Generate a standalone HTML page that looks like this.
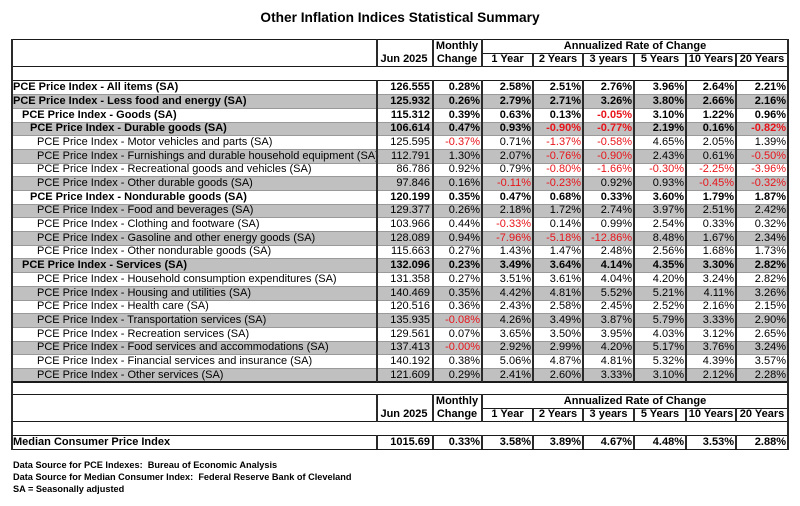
<!DOCTYPE html>
<html><head><meta charset="utf-8"><style>
html,body{margin:0;padding:0;background:#fff;}
body{width:800px;height:506px;position:relative;overflow:hidden;font-family:"Liberation Sans",Arial,sans-serif;color:#000;}
.t{position:absolute;left:0;width:800px;top:9px;text-align:center;font-weight:bold;font-size:13.7px;line-height:18px;}
.row{position:absolute;left:11px;width:777px;}
.g{background:#c0c0c0;}
.c{position:absolute;top:0;height:100%;font-size:11px;white-space:nowrap;box-sizing:border-box;}
.n{text-align:right;padding-right:2px;}
.b{font-weight:bold;}
.red{color:#e8141a;}
.hl{position:absolute;height:1px;background:#1a1a1a;}
.sl{position:absolute;height:1px;background:#9a9a9a;left:12px;width:776px;}
.vl{position:absolute;width:2px;margin-left:-1px;background:#2a2a2a;}
.h{position:absolute;font-size:11px;font-weight:bold;text-align:center;line-height:13px;white-space:nowrap;}
.f{position:absolute;left:13px;font-size:9.2px;font-weight:bold;line-height:11px;white-space:nowrap;}
</style></head><body>
<div class="t">Other Inflation Indices Statistical Summary</div>

<!-- header 1 -->
<div class="h" style="left:376px;width:56px;top:53px;">Jun 2025</div>
<div class="h" style="left:432px;width:50px;top:40px;">Monthly</div>
<div class="h" style="left:432px;width:50px;top:53px;">Change</div>
<div class="h" style="left:482px;width:306px;top:40px;">Annualized Rate of Change</div>
<div class="h" style="left:482px;width:51px;top:53px;">1 Year</div>
<div class="h" style="left:533px;width:50px;top:53px;">2 Years</div>
<div class="h" style="left:583px;width:51px;top:53px;">3 years</div>
<div class="h" style="left:634px;width:52px;top:53px;">5 Years</div>
<div class="h" style="left:686px;width:50px;top:53px;">10 Years</div>
<div class="h" style="left:736px;width:52px;top:53px;">20 Years</div>

<!-- header 2 -->
<div class="h" style="left:376px;width:56px;top:408px;">Jun 2025</div>
<div class="h" style="left:432px;width:50px;top:395px;">Monthly</div>
<div class="h" style="left:432px;width:50px;top:408px;">Change</div>
<div class="h" style="left:482px;width:306px;top:395px;">Annualized Rate of Change</div>
<div class="h" style="left:482px;width:51px;top:408px;">1 Year</div>
<div class="h" style="left:533px;width:50px;top:408px;">2 Years</div>
<div class="h" style="left:583px;width:51px;top:408px;">3 years</div>
<div class="h" style="left:634px;width:52px;top:408px;">5 Years</div>
<div class="h" style="left:686px;width:50px;top:408px;">10 Years</div>
<div class="h" style="left:736px;width:52px;top:408px;">20 Years</div>

<!-- data rows -->
<div class="row" style="top:80px;height:14px;line-height:14px;"><div class="c b" style="left:2px;width:363px;">PCE Price Index - All items (SA)</div><div class="c n b" style="left:365px;width:56px;">126.555</div><div class="c n b" style="left:421px;width:50px;">0.28%</div><div class="c n b" style="left:471px;width:51px;">2.58%</div><div class="c n b" style="left:522px;width:50px;">2.51%</div><div class="c n b" style="left:572px;width:51px;">2.76%</div><div class="c n b" style="left:623px;width:52px;">3.96%</div><div class="c n b" style="left:675px;width:50px;">2.64%</div><div class="c n b" style="left:725px;width:52px;">2.21%</div></div>
<div class="row g" style="top:94px;height:14px;line-height:14px;"><div class="c b" style="left:2px;width:363px;">PCE Price Index - Less food and energy (SA)</div><div class="c n b" style="left:365px;width:56px;">125.932</div><div class="c n b" style="left:421px;width:50px;">0.26%</div><div class="c n b" style="left:471px;width:51px;">2.79%</div><div class="c n b" style="left:522px;width:50px;">2.71%</div><div class="c n b" style="left:572px;width:51px;">3.26%</div><div class="c n b" style="left:623px;width:52px;">3.80%</div><div class="c n b" style="left:675px;width:50px;">2.66%</div><div class="c n b" style="left:725px;width:52px;">2.16%</div></div>
<div class="row" style="top:108px;height:14px;line-height:14px;"><div class="c b" style="left:11px;width:354px;">PCE Price Index - Goods (SA)</div><div class="c n b" style="left:365px;width:56px;">115.312</div><div class="c n b" style="left:421px;width:50px;">0.39%</div><div class="c n b" style="left:471px;width:51px;">0.63%</div><div class="c n b" style="left:522px;width:50px;">0.13%</div><div class="c n b red" style="left:572px;width:51px;">-0.05%</div><div class="c n b" style="left:623px;width:52px;">3.10%</div><div class="c n b" style="left:675px;width:50px;">1.22%</div><div class="c n b" style="left:725px;width:52px;">0.96%</div></div>
<div class="row g" style="top:122px;height:13px;line-height:13px;"><div class="c b" style="left:19px;width:346px;">PCE Price Index - Durable goods (SA)</div><div class="c n b" style="left:365px;width:56px;">106.614</div><div class="c n b" style="left:421px;width:50px;">0.47%</div><div class="c n b" style="left:471px;width:51px;">0.93%</div><div class="c n b red" style="left:522px;width:50px;">-0.90%</div><div class="c n b red" style="left:572px;width:51px;">-0.77%</div><div class="c n b" style="left:623px;width:52px;">2.19%</div><div class="c n b" style="left:675px;width:50px;">0.16%</div><div class="c n b red" style="left:725px;width:52px;">-0.82%</div></div>
<div class="row" style="top:135px;height:14px;line-height:14px;"><div class="c" style="left:26px;width:339px;">PCE Price Index - Motor vehicles and parts (SA)</div><div class="c n" style="left:365px;width:56px;">125.595</div><div class="c n red" style="left:421px;width:50px;">-0.37%</div><div class="c n" style="left:471px;width:51px;">0.71%</div><div class="c n red" style="left:522px;width:50px;">-1.37%</div><div class="c n red" style="left:572px;width:51px;">-0.58%</div><div class="c n" style="left:623px;width:52px;">4.65%</div><div class="c n" style="left:675px;width:50px;">2.05%</div><div class="c n" style="left:725px;width:52px;">1.39%</div></div>
<div class="row g" style="top:149px;height:14px;line-height:14px;"><div class="c" style="left:26px;width:339px;">PCE Price Index - Furnishings and durable household equipment (SA)</div><div class="c n" style="left:365px;width:56px;">112.791</div><div class="c n" style="left:421px;width:50px;">1.30%</div><div class="c n" style="left:471px;width:51px;">2.07%</div><div class="c n red" style="left:522px;width:50px;">-0.76%</div><div class="c n red" style="left:572px;width:51px;">-0.90%</div><div class="c n" style="left:623px;width:52px;">2.43%</div><div class="c n" style="left:675px;width:50px;">0.61%</div><div class="c n red" style="left:725px;width:52px;">-0.50%</div></div>
<div class="row" style="top:163px;height:13px;line-height:13px;"><div class="c" style="left:26px;width:339px;">PCE Price Index - Recreational goods and vehicles (SA)</div><div class="c n" style="left:365px;width:56px;">86.786</div><div class="c n" style="left:421px;width:50px;">0.92%</div><div class="c n" style="left:471px;width:51px;">0.79%</div><div class="c n red" style="left:522px;width:50px;">-0.80%</div><div class="c n red" style="left:572px;width:51px;">-1.66%</div><div class="c n red" style="left:623px;width:52px;">-0.30%</div><div class="c n red" style="left:675px;width:50px;">-2.25%</div><div class="c n red" style="left:725px;width:52px;">-3.96%</div></div>
<div class="row g" style="top:176px;height:14px;line-height:14px;"><div class="c" style="left:26px;width:339px;">PCE Price Index - Other durable goods (SA)</div><div class="c n" style="left:365px;width:56px;">97.846</div><div class="c n" style="left:421px;width:50px;">0.16%</div><div class="c n red" style="left:471px;width:51px;">-0.11%</div><div class="c n red" style="left:522px;width:50px;">-0.23%</div><div class="c n" style="left:572px;width:51px;">0.92%</div><div class="c n" style="left:623px;width:52px;">0.93%</div><div class="c n red" style="left:675px;width:50px;">-0.45%</div><div class="c n red" style="left:725px;width:52px;">-0.32%</div></div>
<div class="row" style="top:190px;height:14px;line-height:14px;"><div class="c b" style="left:19px;width:346px;">PCE Price Index - Nondurable goods (SA)</div><div class="c n b" style="left:365px;width:56px;">120.199</div><div class="c n b" style="left:421px;width:50px;">0.35%</div><div class="c n b" style="left:471px;width:51px;">0.47%</div><div class="c n b" style="left:522px;width:50px;">0.68%</div><div class="c n b" style="left:572px;width:51px;">0.33%</div><div class="c n b" style="left:623px;width:52px;">3.60%</div><div class="c n b" style="left:675px;width:50px;">1.79%</div><div class="c n b" style="left:725px;width:52px;">1.87%</div></div>
<div class="row g" style="top:204px;height:13px;line-height:13px;"><div class="c" style="left:26px;width:339px;">PCE Price Index - Food and beverages (SA)</div><div class="c n" style="left:365px;width:56px;">129.377</div><div class="c n" style="left:421px;width:50px;">0.26%</div><div class="c n" style="left:471px;width:51px;">2.18%</div><div class="c n" style="left:522px;width:50px;">1.72%</div><div class="c n" style="left:572px;width:51px;">2.74%</div><div class="c n" style="left:623px;width:52px;">3.97%</div><div class="c n" style="left:675px;width:50px;">2.51%</div><div class="c n" style="left:725px;width:52px;">2.42%</div></div>
<div class="row" style="top:217px;height:14px;line-height:14px;"><div class="c" style="left:26px;width:339px;">PCE Price Index - Clothing and footware (SA)</div><div class="c n" style="left:365px;width:56px;">103.966</div><div class="c n" style="left:421px;width:50px;">0.44%</div><div class="c n red" style="left:471px;width:51px;">-0.33%</div><div class="c n" style="left:522px;width:50px;">0.14%</div><div class="c n" style="left:572px;width:51px;">0.99%</div><div class="c n" style="left:623px;width:52px;">2.54%</div><div class="c n" style="left:675px;width:50px;">0.33%</div><div class="c n" style="left:725px;width:52px;">0.32%</div></div>
<div class="row g" style="top:231px;height:14px;line-height:14px;"><div class="c" style="left:26px;width:339px;">PCE Price Index - Gasoline and other energy goods (SA)</div><div class="c n" style="left:365px;width:56px;">128.089</div><div class="c n" style="left:421px;width:50px;">0.94%</div><div class="c n red" style="left:471px;width:51px;">-7.96%</div><div class="c n red" style="left:522px;width:50px;">-5.18%</div><div class="c n red" style="left:572px;width:51px;">-12.86%</div><div class="c n" style="left:623px;width:52px;">8.48%</div><div class="c n" style="left:675px;width:50px;">1.67%</div><div class="c n" style="left:725px;width:52px;">2.34%</div></div>
<div class="row" style="top:245px;height:13px;line-height:13px;"><div class="c" style="left:26px;width:339px;">PCE Price Index - Other nondurable goods (SA)</div><div class="c n" style="left:365px;width:56px;">115.663</div><div class="c n" style="left:421px;width:50px;">0.27%</div><div class="c n" style="left:471px;width:51px;">1.43%</div><div class="c n" style="left:522px;width:50px;">1.47%</div><div class="c n" style="left:572px;width:51px;">2.48%</div><div class="c n" style="left:623px;width:52px;">2.56%</div><div class="c n" style="left:675px;width:50px;">1.68%</div><div class="c n" style="left:725px;width:52px;">1.73%</div></div>
<div class="row g" style="top:258px;height:14px;line-height:14px;"><div class="c b" style="left:11px;width:354px;">PCE Price Index - Services (SA)</div><div class="c n b" style="left:365px;width:56px;">132.096</div><div class="c n b" style="left:421px;width:50px;">0.23%</div><div class="c n b" style="left:471px;width:51px;">3.49%</div><div class="c n b" style="left:522px;width:50px;">3.64%</div><div class="c n b" style="left:572px;width:51px;">4.14%</div><div class="c n b" style="left:623px;width:52px;">4.35%</div><div class="c n b" style="left:675px;width:50px;">3.30%</div><div class="c n b" style="left:725px;width:52px;">2.82%</div></div>
<div class="row" style="top:272px;height:14px;line-height:14px;"><div class="c" style="left:26px;width:339px;">PCE Price Index - Household consumption expenditures (SA)</div><div class="c n" style="left:365px;width:56px;">131.358</div><div class="c n" style="left:421px;width:50px;">0.27%</div><div class="c n" style="left:471px;width:51px;">3.51%</div><div class="c n" style="left:522px;width:50px;">3.61%</div><div class="c n" style="left:572px;width:51px;">4.04%</div><div class="c n" style="left:623px;width:52px;">4.20%</div><div class="c n" style="left:675px;width:50px;">3.24%</div><div class="c n" style="left:725px;width:52px;">2.82%</div></div>
<div class="row g" style="top:286px;height:14px;line-height:14px;"><div class="c" style="left:26px;width:339px;">PCE Price Index - Housing and utilities (SA)</div><div class="c n" style="left:365px;width:56px;">140.469</div><div class="c n" style="left:421px;width:50px;">0.35%</div><div class="c n" style="left:471px;width:51px;">4.42%</div><div class="c n" style="left:522px;width:50px;">4.81%</div><div class="c n" style="left:572px;width:51px;">5.52%</div><div class="c n" style="left:623px;width:52px;">5.21%</div><div class="c n" style="left:675px;width:50px;">4.11%</div><div class="c n" style="left:725px;width:52px;">3.26%</div></div>
<div class="row" style="top:300px;height:13px;line-height:13px;"><div class="c" style="left:26px;width:339px;">PCE Price Index - Health care (SA)</div><div class="c n" style="left:365px;width:56px;">120.516</div><div class="c n" style="left:421px;width:50px;">0.36%</div><div class="c n" style="left:471px;width:51px;">2.43%</div><div class="c n" style="left:522px;width:50px;">2.58%</div><div class="c n" style="left:572px;width:51px;">2.45%</div><div class="c n" style="left:623px;width:52px;">2.52%</div><div class="c n" style="left:675px;width:50px;">2.16%</div><div class="c n" style="left:725px;width:52px;">2.15%</div></div>
<div class="row g" style="top:313px;height:14px;line-height:14px;"><div class="c" style="left:26px;width:339px;">PCE Price Index - Transportation services (SA)</div><div class="c n" style="left:365px;width:56px;">135.935</div><div class="c n red" style="left:421px;width:50px;">-0.08%</div><div class="c n" style="left:471px;width:51px;">4.26%</div><div class="c n" style="left:522px;width:50px;">3.49%</div><div class="c n" style="left:572px;width:51px;">3.87%</div><div class="c n" style="left:623px;width:52px;">5.79%</div><div class="c n" style="left:675px;width:50px;">3.33%</div><div class="c n" style="left:725px;width:52px;">2.90%</div></div>
<div class="row" style="top:327px;height:14px;line-height:14px;"><div class="c" style="left:26px;width:339px;">PCE Price Index - Recreation services (SA)</div><div class="c n" style="left:365px;width:56px;">129.561</div><div class="c n" style="left:421px;width:50px;">0.07%</div><div class="c n" style="left:471px;width:51px;">3.65%</div><div class="c n" style="left:522px;width:50px;">3.50%</div><div class="c n" style="left:572px;width:51px;">3.95%</div><div class="c n" style="left:623px;width:52px;">4.03%</div><div class="c n" style="left:675px;width:50px;">3.12%</div><div class="c n" style="left:725px;width:52px;">2.65%</div></div>
<div class="row g" style="top:341px;height:13px;line-height:13px;"><div class="c" style="left:26px;width:339px;">PCE Price Index - Food services and accommodations (SA)</div><div class="c n" style="left:365px;width:56px;">137.413</div><div class="c n red" style="left:421px;width:50px;">-0.00%</div><div class="c n" style="left:471px;width:51px;">2.92%</div><div class="c n" style="left:522px;width:50px;">2.99%</div><div class="c n" style="left:572px;width:51px;">4.20%</div><div class="c n" style="left:623px;width:52px;">5.17%</div><div class="c n" style="left:675px;width:50px;">3.76%</div><div class="c n" style="left:725px;width:52px;">3.24%</div></div>
<div class="row" style="top:354px;height:14px;line-height:14px;"><div class="c" style="left:26px;width:339px;">PCE Price Index - Financial services and insurance (SA)</div><div class="c n" style="left:365px;width:56px;">140.192</div><div class="c n" style="left:421px;width:50px;">0.38%</div><div class="c n" style="left:471px;width:51px;">5.06%</div><div class="c n" style="left:522px;width:50px;">4.87%</div><div class="c n" style="left:572px;width:51px;">4.81%</div><div class="c n" style="left:623px;width:52px;">5.32%</div><div class="c n" style="left:675px;width:50px;">4.39%</div><div class="c n" style="left:725px;width:52px;">3.57%</div></div>
<div class="row g" style="top:368px;height:14px;line-height:14px;"><div class="c" style="left:26px;width:339px;">PCE Price Index - Other services (SA)</div><div class="c n" style="left:365px;width:56px;">121.609</div><div class="c n" style="left:421px;width:50px;">0.29%</div><div class="c n" style="left:471px;width:51px;">2.41%</div><div class="c n" style="left:522px;width:50px;">2.60%</div><div class="c n" style="left:572px;width:51px;">3.33%</div><div class="c n" style="left:623px;width:52px;">3.10%</div><div class="c n" style="left:675px;width:50px;">2.12%</div><div class="c n" style="left:725px;width:52px;">2.28%</div></div>

<!-- median row -->
<div class="row" style="top:435px;height:14px;line-height:14px;"><div class="c b" style="left:2px;width:363px;">Median Consumer Price Index</div><div class="c n b" style="left:365px;width:56px;">1015.69</div><div class="c n b" style="left:421px;width:50px;">0.33%</div><div class="c n b" style="left:471px;width:51px;">3.58%</div><div class="c n b" style="left:522px;width:50px;">3.89%</div><div class="c n b" style="left:572px;width:51px;">4.67%</div><div class="c n b" style="left:623px;width:52px;">4.48%</div><div class="c n b" style="left:675px;width:50px;">3.53%</div><div class="c n b" style="left:725px;width:52px;">2.88%</div></div>

<!-- row separators -->
<div class="sl" style="top:94px"></div><div class="sl" style="top:108px"></div><div class="sl" style="top:122px"></div><div class="sl" style="top:135px"></div><div class="sl" style="top:149px"></div><div class="sl" style="top:163px"></div><div class="sl" style="top:176px"></div><div class="sl" style="top:190px"></div><div class="sl" style="top:204px"></div><div class="sl" style="top:217px"></div><div class="sl" style="top:231px"></div><div class="sl" style="top:245px"></div><div class="sl" style="top:258px"></div><div class="sl" style="top:272px"></div><div class="sl" style="top:286px"></div><div class="sl" style="top:300px"></div><div class="sl" style="top:313px"></div><div class="sl" style="top:327px"></div><div class="sl" style="top:341px"></div><div class="sl" style="top:354px"></div><div class="sl" style="top:368px"></div>

<!-- main horizontal lines -->
<div class="hl" style="left:11px;width:778px;top:39px"></div>
<div class="hl" style="left:482px;width:306px;top:53px"></div>
<div class="hl" style="left:11px;width:778px;top:66px"></div>
<div class="hl" style="left:11px;width:778px;top:80px"></div>
<div class="hl" style="left:11px;width:778px;top:381px;height:2px"></div>
<div class="hl" style="left:11px;width:778px;top:394px"></div>
<div class="hl" style="left:482px;width:306px;top:408px"></div>
<div class="hl" style="left:11px;width:778px;top:421px"></div>
<div class="hl" style="left:11px;width:778px;top:435px"></div>
<div class="hl" style="left:11px;width:778px;top:449px"></div>

<!-- outer verticals -->
<div class="vl" style="left:12px;top:39px;height:411px"></div>
<div class="vl" style="left:788px;top:39px;height:411px"></div>

<!-- header 1 verticals -->
<div class="vl" style="left:377px;top:39px;height:28px"></div>
<div class="vl" style="left:433px;top:39px;height:28px"></div>
<div class="vl" style="left:482px;top:39px;height:28px"></div>
<div class="vl" style="left:533px;top:53px;height:14px"></div>
<div class="vl" style="left:583px;top:53px;height:14px"></div>
<div class="vl" style="left:634px;top:53px;height:14px"></div>
<div class="vl" style="left:686px;top:53px;height:14px"></div>
<div class="vl" style="left:736px;top:53px;height:14px"></div>

<!-- data verticals -->
<div class="vl" style="left:377px;top:80px;height:302px"></div>
<div class="vl" style="left:433px;top:80px;height:302px"></div>
<div class="vl" style="left:482px;top:80px;height:302px"></div>
<div class="vl" style="left:533px;top:80px;height:302px"></div>
<div class="vl" style="left:583px;top:80px;height:302px"></div>
<div class="vl" style="left:634px;top:80px;height:302px"></div>
<div class="vl" style="left:686px;top:80px;height:302px"></div>
<div class="vl" style="left:736px;top:80px;height:302px"></div>

<!-- header 2 verticals -->
<div class="vl" style="left:377px;top:394px;height:28px"></div>
<div class="vl" style="left:433px;top:394px;height:28px"></div>
<div class="vl" style="left:482px;top:394px;height:28px"></div>
<div class="vl" style="left:533px;top:408px;height:14px"></div>
<div class="vl" style="left:583px;top:408px;height:14px"></div>
<div class="vl" style="left:634px;top:408px;height:14px"></div>
<div class="vl" style="left:686px;top:408px;height:14px"></div>
<div class="vl" style="left:736px;top:408px;height:14px"></div>

<!-- median verticals -->
<div class="vl" style="left:377px;top:435px;height:14px"></div>
<div class="vl" style="left:433px;top:435px;height:14px"></div>
<div class="vl" style="left:482px;top:435px;height:14px"></div>
<div class="vl" style="left:533px;top:435px;height:14px"></div>
<div class="vl" style="left:583px;top:435px;height:14px"></div>
<div class="vl" style="left:634px;top:435px;height:14px"></div>
<div class="vl" style="left:686px;top:435px;height:14px"></div>
<div class="vl" style="left:736px;top:435px;height:14px"></div>

<!-- footer -->
<div class="f" style="top:460px">Data Source for PCE Indexes:&nbsp; Bureau of Economic Analysis</div>
<div class="f" style="top:472px">Data Source for Median Consumer Index:&nbsp; Federal Reserve Bank of Cleveland</div>
<div class="f" style="top:484px">SA = Seasonally adjusted</div>
</body></html>
